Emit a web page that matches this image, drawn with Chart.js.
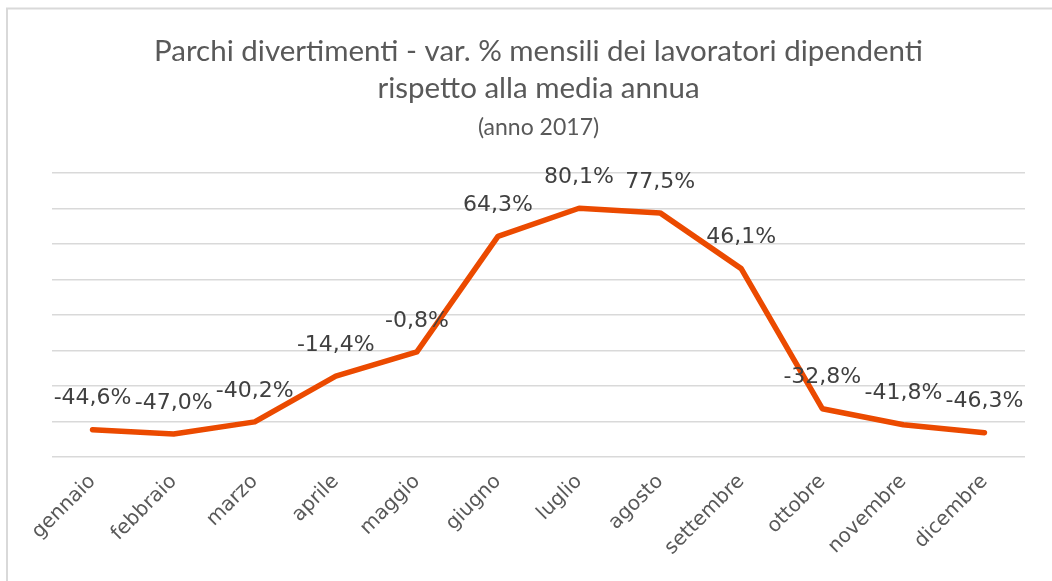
<!DOCTYPE html>
<html>
<head>
<meta charset="utf-8">
<script src="https://cdn.jsdelivr.net/npm/chart.js@4"></script>
<style>
  html, body { margin: 0; padding: 0; background: #fff; }
  #wrap { position: relative; width: 1052px; height: 581px; overflow: hidden; }
  canvas { display: block; }
</style>
</head>
<body>
<div id="wrap"><canvas id="c" width="1052" height="581"></canvas></div>
<script>
const titleLines = ["Parchi divertimenti - var. % mensili dei lavoratori dipendenti", "rispetto alla media annua"];
const subtitleText = "(anno 2017)";
const months = ["gennaio", "febbraio", "marzo", "aprile", "maggio", "giugno", "luglio", "agosto", "settembre", "ottobre", "novembre", "dicembre"];
const variation = [-44.6, -47.0, -40.2, -14.4, -0.8, 64.3, 80.1, 77.5, 46.1, -32.8, -41.8, -46.3];
const yMin = -60, yMax = 100, yStep = 20;

const fmt = v => v.toFixed(1).replace('.', ',') + '%';

const frame = {
  id: 'frame',
  beforeDraw(chart) {
    const ctx = chart.ctx;
    ctx.save();
    ctx.fillStyle = '#fff';
    ctx.fillRect(0, 0, chart.width, chart.height);
    ctx.strokeStyle = '#d9d9d9';
    ctx.lineWidth = 2;
    ctx.beginPath();
    ctx.moveTo(7, chart.height + 5);
    ctx.lineTo(7, 8.5);
    ctx.lineTo(chart.width + 5, 8.5);
    ctx.stroke();
    ctx.restore();
  }
};

const valueLabels = {
  id: 'valueLabels',
  afterDatasetsDraw(chart) {
    const ctx = chart.ctx;
    const meta = chart.getDatasetMeta(0);
    const data = chart.data.datasets[0].data;
    ctx.save();
    ctx.font = '22px "DejaVu Sans"';
    ctx.fillStyle = '#404040';
    ctx.textAlign = 'center';
    ctx.textBaseline = 'middle';
    meta.data.forEach((pt, i) => {
      ctx.fillText(fmt(data[i]), pt.x, pt.y - 31);
    });
    ctx.restore();
  }
};

new Chart(document.getElementById('c'), {
  type: 'line',
  data: {
    labels: months,
    datasets: [{
      data: variation,
      borderColor: '#EB4A00',
      borderWidth: 5.5,
      pointRadius: 0,
      pointHoverRadius: 0,
      tension: 0,
      fill: false,
      borderCapStyle: 'round',
      borderJoinStyle: 'round'
    }]
  },
  options: {
    responsive: false,
    animation: false,
    events: [],
    layout: { padding: { left: 52, right: 27, top: 0, bottom: 0 } },
    plugins: {
      legend: { display: false },
      tooltip: { enabled: false },
      title: {
        display: true,
        text: titleLines,
        color: '#595959',
        font: { family: 'Lato', size: 29.5, weight: 'normal', lineHeight: 1.26 },
        padding: { top: 33, bottom: 0 }
      },
      subtitle: {
        display: true,
        text: subtitleText,
        color: '#595959',
        font: { family: 'Lato', size: 23, weight: 'normal', lineHeight: 1.2 },
        padding: { top: 6, bottom: 32 }
      }
    },
    scales: {
      x: {
        offset: true,
        grid: { display: false },
        border: { display: false },
        ticks: {
          color: '#595959',
          font: { family: 'DejaVu Sans', size: 20 },
          maxRotation: 45,
          minRotation: 45,
          padding: 5,
          autoSkip: false
        },
        afterFit(s) { s.height = 124; }
      },
      y: {
        min: yMin,
        max: yMax,
        ticks: { display: false, stepSize: yStep },
        grid: { color: '#d9d9d9', lineWidth: 1.5, drawTicks: false },
        border: { display: false }
      }
    }
  },
  plugins: [frame, valueLabels]
});
</script>
</body>
</html>
